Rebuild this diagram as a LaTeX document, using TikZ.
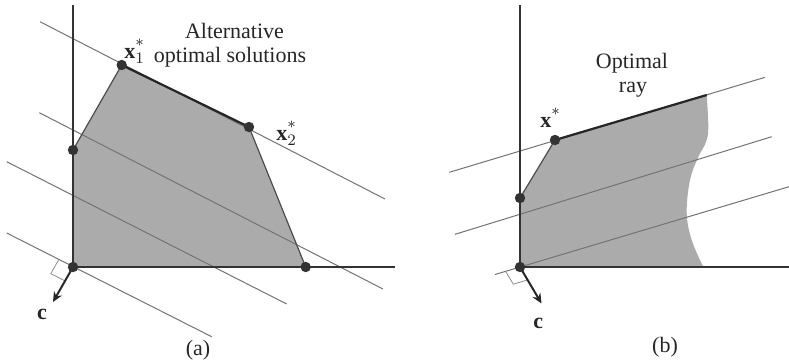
\documentclass[tikz,border=0pt]{standalone}
\usepackage{fontspec}
\setmainfont{Liberation Serif}
\usetikzlibrary{arrows.meta}
\newcommand{\optstar}{\raisebox{1.8pt}{$\scriptstyle *$}}
\begin{document}
\begin{tikzpicture}[x=0.5pt,y=-0.5pt,
  level/.style={draw=black!55, line width=0.5pt},
  axis/.style={draw=black!80, line width=0.6pt},
  edge/.style={draw=black!70, line width=0.6pt},
  optedge/.style={draw=black!85, line width=1.1pt},
  region/.style={fill=black!33},
  pt/.style={circle, fill=black!80, inner sep=0pt, minimum size=5.2pt},
  cvec/.style={draw=black!85, line width=1pt, -{Stealth[length=5pt,width=4.5pt]}},
  rmark/.style={draw=black!45, line width=0.4pt},
  lbl/.style={font=\fontsize{11}{13}\selectfont, text=black!85, inner sep=0pt},
  ]
\useasboundingbox (0,0) rectangle (789,361);

% ---------------- panel (a) ----------------
\coordinate (aO) at (73,267);
\coordinate (aA) at (73,150);
\coordinate (aX1) at (121.7,65);
\coordinate (aX2) at (249,127);
\coordinate (aB) at (305.7,267);
\coordinate (aYtop) at (73,5);
\coordinate (aXend) at (395,267);
\coordinate (aC) at (53,302);

\path[region] (aO) -- (aA) -- (aX1) -- (aX2) -- (aB) -- cycle;

\coordinate (l1s) at (40,21.7);   \coordinate (l1e) at (385,199);
\coordinate (l2s) at (39.3,112.7); \coordinate (l2e) at (383,289);
\coordinate (l3s) at (6.7,161.7);  \coordinate (l3e) at (286.7,304);
\coordinate (l4s) at (6.7,233);    \coordinate (l4e) at (211.7,336.7);
\draw[level] (l1s) -- (l1e);
\draw[level] (l2s) -- (l2e);
\draw[level] (l3s) -- (l3e);
\draw[level] (l4s) -- (l4e);

\draw[axis] (aYtop) -- (aO) -- (aXend);
\draw[edge] (aA) -- (aX1);
\draw[optedge] (aX1) -- (aX2);
\draw[edge] (aX2) -- (aB);

\coordinate (aM1) at (58.7,259.7);
\coordinate (aM2) at (50.8,273.6);
\coordinate (aM3) at (65.1,280.9);
\draw[rmark] (aM1) -- (aM2) -- (aM3);
\draw[cvec] (aO) -- (aC);

\node[pt] (pa0) at (aO) {};
\node[pt] (pa1) at (aA) {};
\node[pt] (pa2) at (aX1) {};
\node[pt] (pa3) at (aX2) {};
\node[pt] (pa4) at (aB) {};

\node[lbl, anchor=base] (alt1) at (234.5,38) {Alternative};
\node[lbl, anchor=base] (alt2) at (230,62) {optimal solutions};
\node[lbl, anchor=base west] (x1lbl) at (124,58) {\textbf{x}$^{\optstar}_{1}$};
\node[lbl, anchor=base west] (x2lbl) at (276,140) {\textbf{x}$^{\optstar}_{2}$};
\node[lbl, anchor=base] (ca) at (42,319) {\textbf{c}};
\node[lbl, anchor=base] (capa) at (198,355) {(a)};

% ---------------- panel (b) ----------------
\coordinate (bO) at (520,267);
\coordinate (bA) at (520,198);
\coordinate (bX) at (555,140);
\coordinate (bR) at (706.7,95);
\coordinate (bYtop) at (520,5);
\coordinate (bXend) at (789,267);
\coordinate (bC) at (541.5,303.5);

\path[region] (bO) -- (bA) -- (bX) -- (bR)
  -- plot[smooth, tension=0.6] coordinates {(706.7,95) (708.3,127) (706,142) (698.3,157) (690,180) (686.7,213) (691.7,240) (703.3,267)}
  -- cycle;

\coordinate (m1s) at (449.3,172.3); \coordinate (m1e) at (765,77.3);
\coordinate (m2s) at (455,234.3);   \coordinate (m2e) at (771.7,136.7);
\coordinate (m3s) at (495,274.5);   \coordinate (m3e) at (789,186.7);
\draw[level] (m1s) -- (m1e);
\draw[level] (m2s) -- (m2e);
\draw[level] (m3s) -- (m3e);

\draw[axis] (bYtop) -- (bO) -- (bXend);
\draw[edge] (bA) -- (bX);
\draw[optedge] (bX) -- (bR);

\coordinate (bM1) at (505.6,271.3);
\coordinate (bM2) at (513.3,284.2);
\coordinate (bM3) at (527.6,279.9);
\draw[rmark] (bM1) -- (bM2) -- (bM3);
\draw[cvec] (bO) -- (bC);

\node[pt] (pb0) at (bO) {};
\node[pt] (pb1) at (bA) {};
\node[pt] (pb2) at (bX) {};

\node[lbl, anchor=base] (opt1) at (632,68) {Optimal};
\node[lbl, anchor=base] (opt2) at (633,92) {ray};
\node[lbl, anchor=base west] (xlbl) at (540,127) {\textbf{x}$^{\optstar}$};
\node[lbl, anchor=base] (cb) at (538.3,328) {\textbf{c}};
\node[lbl, anchor=base] (capb) at (665,352) {(b)};
\end{tikzpicture}
\end{document}
